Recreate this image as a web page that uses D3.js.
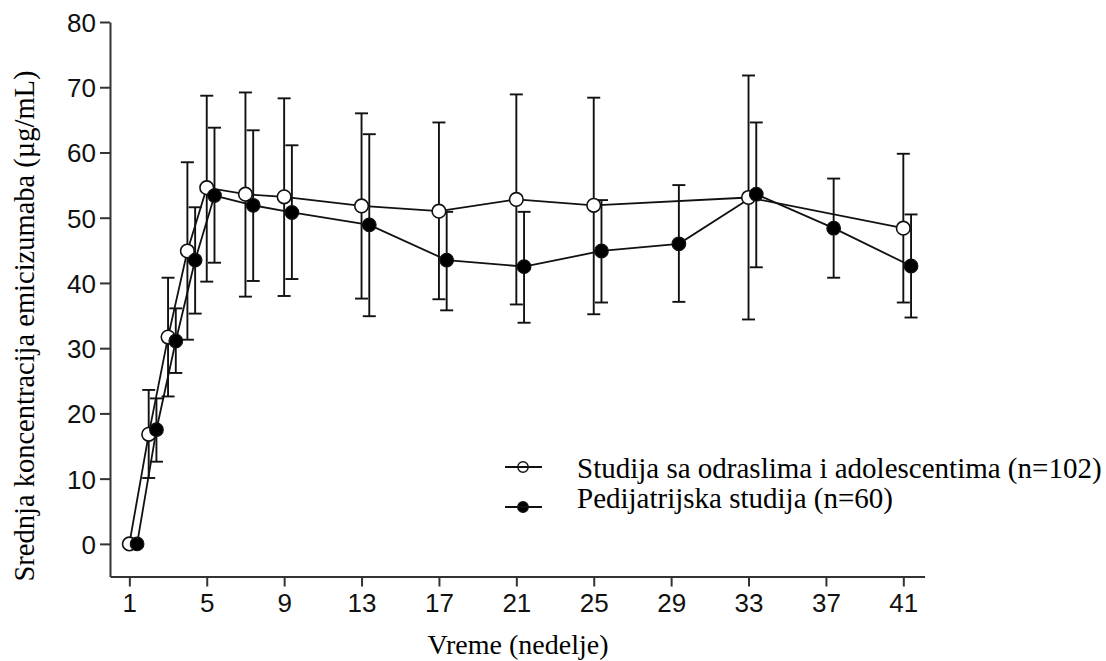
<!DOCTYPE html>
<html>
<head>
<meta charset="utf-8">
<script src="https://cdn.jsdelivr.net/npm/d3@7"></script>
<style>
  html, body { margin: 0; padding: 0; background: #fff; }
  svg { display: block; }
  .serif { font-family: "Liberation Serif", "Times New Roman", Times, serif; }
  .sans { font-family: "Liberation Sans", Arial, Helvetica, sans-serif; }
</style>
</head>
<body>
<svg id="chart" width="1106" height="661"></svg>
<script>
// ---- data ----
const xTicks = [1, 5, 9, 13, 17, 21, 25, 29, 33, 37, 41];
const yTicks = [0, 10, 20, 30, 40, 50, 60, 70, 80];

const adultWeeks = [1, 2, 3, 4, 5, 7, 9, 13, 17, 21, 25, 33, 41];
const adultMean  = [0, 16.8, 31.7, 44.9, 54.6, 53.6, 53.2, 51.8, 51.0, 52.8, 51.9, 53.1, 48.4];
const adultUpper = [null, 23.6, 40.8, 58.5, 68.7, 69.2, 68.3, 66.0, 64.6, 68.9, 68.4, 71.8, 59.8];
const adultLower = [null, 10.1, 22.6, 31.3, 40.2, 37.9, 38.0, 37.6, 37.5, 36.7, 35.2, 34.4, 37.0];

const pedWeeks = [1, 2, 3, 4, 5, 7, 9, 13, 17, 21, 25, 29, 33, 37, 41];
const pedMean  = [0, 17.5, 31.1, 43.5, 53.4, 51.9, 50.8, 48.9, 43.5, 42.5, 44.9, 46.0, 53.6, 48.4, 42.6];
const pedUpper = [null, 22.3, 36.1, 51.6, 63.8, 63.4, 61.1, 62.8, 50.9, 50.9, 52.7, 55.0, 64.6, 56.0, 50.5];
const pedLower = [null, 12.6, 26.2, 35.3, 43.1, 40.3, 40.6, 34.9, 35.8, 33.9, 37.0, 37.1, 42.4, 40.8, 34.7];

const seriesNames = ["Studija sa odraslima i adolescentima (n=102)", "Pedijatrijska studija (n=60)"];
const xTitle = "Vreme (nedelje)";
const yTitle = "Srednja koncentracija emicizumaba (µg/mL)";

// ---- layout ----
const pedDodge = 0.4; // horizontal dodge (weeks) of the paediatric series
const svg = d3.select("#chart");
const x = d3.scaleLinear().domain([0, 42.1]).range([110, 924.6]);
const y = d3.scaleLinear().domain([-5, 80]).range([576.5, 22]);
const ink = "#111";

function build(weeks, mean, upper, lower, dodge) {
  return weeks.map((w, i) => ({ w: w + dodge, m: mean[i], u: upper[i], l: lower[i] }));
}
const adult = build(adultWeeks, adultMean, adultUpper, adultLower, 0);
const ped = build(pedWeeks, pedMean, pedUpper, pedLower, pedDodge);

// axes
const yAxis = svg.append("g").attr("transform", `translate(${x(0)},0)`)
  .call(d3.axisLeft(y).tickValues(yTicks).tickSize(10).tickSizeOuter(0).tickPadding(4));
const xAxis = svg.append("g").attr("transform", `translate(0,${y(-5)})`)
  .call(d3.axisBottom(x).tickValues(xTicks).tickSize(10).tickSizeOuter(0).tickPadding(7));
[yAxis, xAxis].forEach(g => {
  g.attr("font-family", null).attr("font-size", null).attr("class", "sans");
  g.selectAll("path.domain").attr("stroke", "#333").attr("stroke-width", 2);
  g.selectAll(".tick line").attr("stroke", "#333").attr("stroke-width", 2);
  g.selectAll(".tick text").attr("fill", "#111").attr("font-size", 26);
});
yAxis.selectAll(".tick text").attr("dy", "0.36em");

// error bars
const capHalf = 6.5;
function errorBars(data) {
  const g = svg.append("g").attr("stroke", ink).attr("stroke-width", 1.9).attr("fill", "none");
  data.filter(d => d.u != null).forEach(d => {
    const cx = x(d.w);
    g.append("line").attr("x1", cx).attr("x2", cx).attr("y1", y(d.u)).attr("y2", y(d.l));
    g.append("line").attr("x1", cx - capHalf).attr("x2", cx + capHalf).attr("y1", y(d.u)).attr("y2", y(d.u));
    g.append("line").attr("x1", cx - capHalf).attr("x2", cx + capHalf).attr("y1", y(d.l)).attr("y2", y(d.l));
  });
}
errorBars(adult);
errorBars(ped);

// lines
const line = d3.line().x(d => x(d.w)).y(d => y(d.m));
[adult, ped].forEach(data => {
  svg.append("path").datum(data).attr("d", line)
    .attr("fill", "none").attr("stroke", ink).attr("stroke-width", 1.8);
});

// markers
const r = 6.8;
svg.append("g").selectAll("circle").data(adult).join("circle")
  .attr("cx", d => x(d.w)).attr("cy", d => y(d.m)).attr("r", r)
  .attr("fill", "#fff").attr("stroke", ink).attr("stroke-width", 1.6);
svg.append("g").selectAll("circle").data(ped).join("circle")
  .attr("cx", d => x(d.w)).attr("cy", d => y(d.m)).attr("r", r)
  .attr("fill", "#000").attr("stroke", ink).attr("stroke-width", 1.2);

// legend (line drawn across the symbol, as in the reference)
const legend = [
  { name: seriesNames[0], fill: "#fff", symY: 467, textY: 478 },
  { name: seriesNames[1], fill: "#000", symY: 507, textY: 508 }
];
legend.forEach(L => {
  const g = svg.append("g");
  g.append("circle").attr("cx", 523).attr("cy", L.symY).attr("r", 5.2)
    .attr("fill", L.fill).attr("stroke", ink).attr("stroke-width", 1.4);
  g.append("line").attr("x1", 505).attr("x2", 542).attr("y1", L.symY).attr("y2", L.symY)
    .attr("stroke", ink).attr("stroke-width", 1.8);
  g.append("text").attr("class", "serif").attr("x", 577).attr("y", L.textY).text(L.name)
    .attr("font-size", 29).attr("fill", "#000");
});

// axis titles
svg.append("text").attr("class", "serif").attr("x", 518).attr("y", 654).attr("text-anchor", "middle")
  .text(xTitle).attr("font-size", 28).attr("fill", "#000");
svg.append("text").attr("class", "serif").attr("transform", "translate(34,326) rotate(-90)").attr("text-anchor", "middle")
  .text(yTitle).attr("font-size", 28.5).attr("fill", "#000");
</script>
</body>
</html>
